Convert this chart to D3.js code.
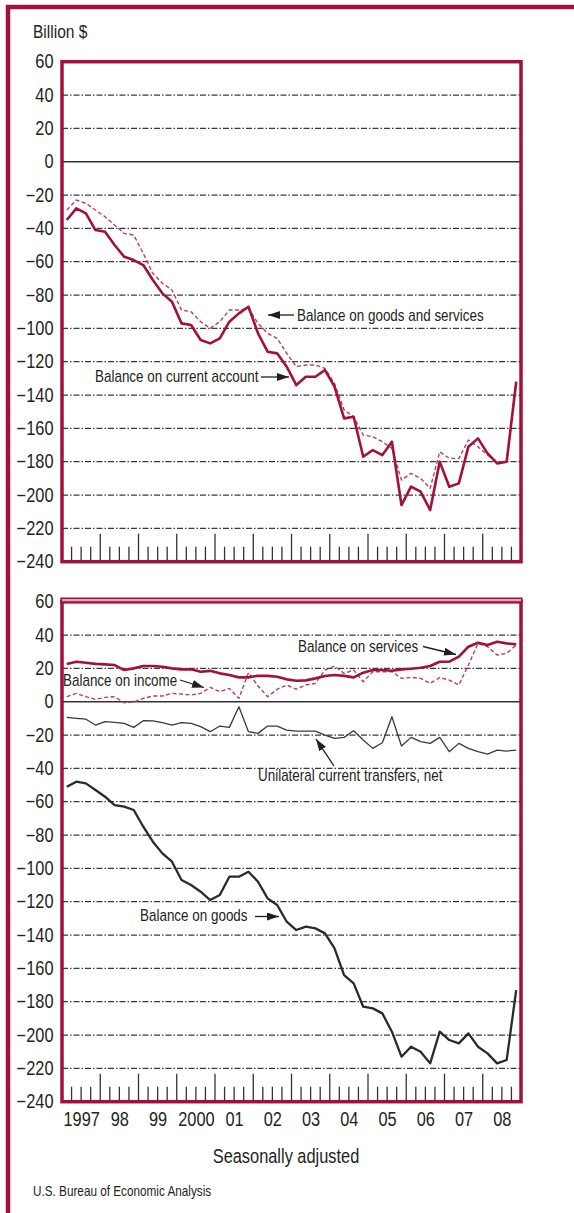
<!DOCTYPE html>
<html>
<head>
<meta charset="utf-8">
<script src="https://cdn.jsdelivr.net/npm/d3@7"></script>
<style>
  body { margin: 0; background: #fff; }
  text { font-family: "Liberation Sans", Arial, Helvetica, sans-serif; fill: #231f20; }
</style>
</head>
<body>
<div id="chart"></div>
<script>
// quarterly values, 1997 Q1 .. 2008 Q4, billion $ (seasonally adjusted)
const years = [1997, 1998, 1999, 2000, 2001, 2002, 2003, 2004, 2005, 2006, 2007, 2008];
const yearLabels = ["1997", "98", "99", "2000", "01", "02", "03", "04", "05", "06", "07", "08"];
const yTicks = d3.range(-240, 61, 20);

// top panel
const currentAccount = [-35, -28, -31, -41, -42, -50, -57, -59, -62, -71, -79, -84,
  -97, -98, -107, -109, -106, -96, -91, -87, -103, -114, -115, -123,
  -134, -129, -129, -125, -135, -154, -153, -177, -173, -176, -168, -206,
  -195, -198, -209, -180, -195, -193, -171, -166, -175, -181, -180, -132];
const goodsServices = [-29, -23, -25, -29, -33, -38, -43, -44, -55, -67, -73, -77,
  -89, -90, -96, -100, -96, -89, -89, -88, -97, -103, -106, -115,
  -123, -122, -122, -124, -133, -149, -153, -164, -165, -168, -172, -191,
  -187, -190, -196, -174, -178, -178, -167, -171, -176, -180, -180, -133];

// bottom panel
const services = [22.6, 24, 23.4, 22.7, 22.4, 22, 19, 20, 21.4, 21.4, 21, 20,
  19.4, 19.5, 18, 18.5, 17, 16, 14.6, 14.6, 15.6, 15.5, 15, 13.4,
  12.6, 12.8, 14, 15.4, 16, 15.5, 14.6, 17.4, 19, 19, 18.6, 19.4,
  19.8, 20.4, 21.4, 24, 24, 27, 33, 35.4, 34, 36, 35, 34.4];
const income = [3, 5, 3, 1.4, 2.6, 3, -0.6, -0.2, 2, 3.4, 3.4, 5,
  4.6, 4, 5, 8.6, 6, 8, 2, 17.4, 9.4, 3, 7.5, 10,
  7.5, 10, 11, 19, 21.4, 17, 19, 12, 18, 18, 18, 14,
  14.6, 14, 11, 14.5, 13, 10, 22, 35, 33, 28, 29, 34];
const transfers = [-9.4, -10, -10.5, -14, -12, -12.4, -13, -15.4, -11.4, -11.5, -12.5, -14,
  -12.6, -13, -15, -18, -14.6, -15.4, -3, -18, -19, -14.6, -14.6, -17,
  -17.6, -17.6, -17.6, -20, -22, -21.4, -17.4, -23, -28, -24.6, -9, -26.6,
  -21.4, -24, -25, -21.4, -30, -25, -28, -30, -31.4, -29, -29.6, -29];
const goods = [-51, -48, -49, -53, -57, -62, -63, -65, -75, -84, -91, -96,
  -107, -110, -114, -119, -116, -105, -105, -102, -108, -118, -122, -132,
  -137, -135, -136, -139, -148, -164, -169, -183, -184, -187, -198, -213,
  -207, -210, -217, -198, -203, -205, -199, -207, -211, -217, -215, -173];

const W = 574, H = 1213;
const crimson = "#a0123c";
const ink = "#231f20";
const NARROW = 0.84;

const svg = d3.select("#chart").append("svg")
  .attr("width", W)
  .attr("height", H);

svg.append("defs").append("marker")
  .attr("id", "arrow")
  .attr("viewBox", "0 0 12 8")
  .attr("refX", 12).attr("refY", 4)
  .attr("markerUnits", "userSpaceOnUse")
  .attr("markerWidth", 12).attr("markerHeight", 8)
  .attr("orient", "auto")
  .append("path")
  .attr("d", "M0,0 L12,4 L0,8 Z")
  .attr("fill", ink);

// outer frame
svg.append("path")
  .attr("d", `M8,${H} V7 H${W}`)
  .attr("fill", "none")
  .attr("stroke", crimson)
  .attr("stroke-width", 4.5);

const x = d3.scaleLinear().domain([1997, 2009]).range([62, 521]);
const qx = i => x(years[Math.floor(i / 4)] + (i % 4 + 0.5) / 4);

// condensed text helper
const label = (g, str, px, py, size, anchor) => g.append("text")
  .attr("transform", `translate(${px},${py}) scale(${NARROW},1)`)
  .attr("text-anchor", anchor || "start")
  .style("font-size", size + "px")
  .text(str);

const drawPanel = (top, series, notes) => {
  const y = d3.scaleLinear().domain([-240, 60]).range([top + 500, top]);
  const g = svg.append("g");

  // grid
  g.selectAll("line.grid")
    .data(yTicks.filter(v => v !== 60 && v !== -240 && v !== 0))
    .enter().append("line")
    .attr("class", "grid")
    .attr("x1", x(1997)).attr("x2", x(2009))
    .attr("y1", d => y(d)).attr("y2", d => y(d))
    .attr("stroke", "#3a3a3a")
    .attr("stroke-width", 1.3)
    .attr("stroke-dasharray", "6,2,1.5,2");

  g.append("line")
    .attr("x1", x(1997)).attr("x2", x(2009))
    .attr("y1", y(0)).attr("y2", y(0))
    .attr("stroke", "#333")
    .attr("stroke-width", 1.6);

  // quarter ticks on the bottom edge
  g.selectAll("line.tick")
    .data(d3.range(1, 48))
    .enter().append("line")
    .attr("class", "tick")
    .attr("x1", k => x(1997 + k / 4)).attr("x2", k => x(1997 + k / 4))
    .attr("y1", y(-240))
    .attr("y2", k => y(-240) - (k % 4 === 0 ? 28 : 15))
    .attr("stroke", "#333")
    .attr("stroke-width", 1.3);

  // y axis labels
  const ax = g.append("g")
    .attr("transform", `translate(${x(1997)},0)`)
    .call(d3.axisLeft(y).tickValues(yTicks).tickSize(0).tickPadding(8.5));
  ax.select(".domain").remove();
  ax.selectAll("text")
    .attr("x", -8.5 / NARROW)
    .attr("transform", `scale(${NARROW},1)`)
    .style("font-size", "19.5px")
    .style("font-family", null)
    .attr("fill", ink);

  const line = d3.line().x((d, i) => qx(i)).y(d => y(d));
  series.forEach(s => {
    g.append("path")
      .datum(s.values)
      .attr("d", line)
      .attr("fill", "none")
      .attr("stroke", s.color)
      .attr("stroke-width", s.width)
      .attr("stroke-dasharray", s.dash)
      .attr("stroke-linejoin", "round");
  });

  // frame
  g.append("rect")
    .attr("x", x(1997)).attr("y", y(60))
    .attr("width", x(2009) - x(1997))
    .attr("height", y(-240) - y(60))
    .attr("fill", "none")
    .attr("stroke", crimson)
    .attr("stroke-width", 3.5);

  notes.forEach(n => {
    label(g, n.text, n.tx, n.ty, 16);
    g.append("line")
      .attr("x1", n.from[0]).attr("y1", n.from[1])
      .attr("x2", n.to[0]).attr("y2", n.to[1])
      .attr("stroke", ink)
      .attr("stroke-width", 1.3)
      .attr("marker-end", "url(#arrow)");
  });
  return { g, y };
};

const topPanel = drawPanel(61.7, [
  { values: goodsServices, color: "#b8405e", width: 1.4, dash: "4,2.5" },
  { values: currentAccount, color: crimson, width: 2.6, dash: null }
], [
  { text: "Balance on goods and services", tx: 297, ty: 321, from: [294, 315], to: [268, 315] },
  { text: "Balance on current account", tx: 95, ty: 382, from: [261, 377], to: [289, 377] }
]);

const bottomPanel = drawPanel(601.7, [
  { values: income, color: "#b8405e", width: 1.4, dash: "4,2.5" },
  { values: services, color: crimson, width: 2.6, dash: null },
  { values: transfers, color: "#3a3a3a", width: 1.3, dash: null },
  { values: goods, color: "#2a2a2a", width: 2.3, dash: null }
], [
  { text: "Balance on services", tx: 298, ty: 652, from: [423, 646.5], to: [456, 654.5] },
  { text: "Balance on income", tx: 63, ty: 686, from: [180, 680], to: [204, 687.5] },
  { text: "Unilateral current transfers, net", tx: 258, ty: 781, from: [334, 766], to: [316, 739] },
  { text: "Balance on goods", tx: 140, ty: 921, from: [255, 916.5], to: [279, 916.5] }
]);

// double rule along the top of the lower panel
svg.append("line")
  .attr("x1", x(1997) - 1.7).attr("x2", x(2009) + 1.7)
  .attr("y1", 600.3).attr("y2", 600.3)
  .attr("stroke", crimson).attr("stroke-width", 5.8);
svg.append("line")
  .attr("x1", x(1997)).attr("x2", x(2009))
  .attr("y1", 600.2).attr("y2", 600.2)
  .attr("stroke", "#e6a4b6").attr("stroke-width", 2.2);

// years along the bottom
const xa = svg.append("g")
  .attr("transform", `translate(0,${bottomPanel.y(-240)})`)
  .call(d3.axisBottom(x)
    .tickValues(years.map(v => v + 0.5))
    .tickFormat((d, i) => yearLabels[i])
    .tickSize(0)
    .tickPadding(10));
xa.select(".domain").remove();
xa.selectAll("text")
  .attr("transform", `scale(${NARROW},1)`)
  .style("font-size", "19.5px")
  .style("font-family", null)
  .attr("fill", ink);

label(svg, "Billion $", 33, 38, 18.5);
label(svg, "Seasonally adjusted", 286, 1163, 19.5, "middle");
label(svg, "U.S. Bureau of Economic Analysis", 33, 1196, 14);
</script>
</body>
</html>
